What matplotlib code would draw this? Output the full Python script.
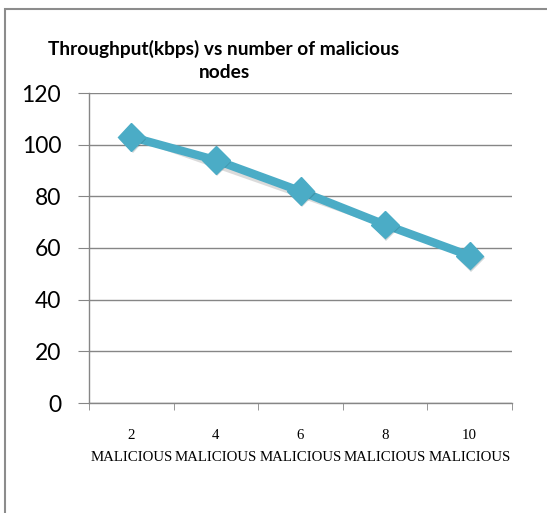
import numpy as np
import matplotlib.pyplot as plt
import matplotlib.patheffects as pe
from matplotlib.patches import Rectangle

# data
nodes = ['2', '4', '6', '8', '10']
throughput = [103, 94, 82, 69, 57]
xlabels = [n + '\nMALICIOUS' for n in nodes]

fig = plt.figure(figsize=(5.47, 5.13), dpi=100)
fig.patch.set_facecolor('white')

# outer chart frame
fig.add_artist(Rectangle((5 / 547, -0.01), 1.0, 1 - 9 / 513 + 0.01, transform=fig.transFigure,
                         fill=False, edgecolor='#8c8c8c', linewidth=1.5))

ax = fig.add_axes([89 / 547, 1 - 403 / 513, (512 - 89) / 547, (403 - 93) / 513])
x = np.arange(len(nodes))
ax.plot(x, throughput, color='#4bacc6', linewidth=6, marker='D', markersize=14,
        solid_joinstyle='round',
        path_effects=[pe.SimplePatchShadow(offset=(1, -1.5), alpha=0.2), pe.Normal()])

ax.set_xlim(-0.5, len(nodes) - 0.5)
ax.set_ylim(0, 120)
ax.set_yticks(np.arange(0, 121, 20))
ax.grid(axis='y', color='#868686', linewidth=1)
ax.set_axisbelow(True)

for s in ['top', 'right']:
    ax.spines[s].set_visible(False)
for s in ['left', 'bottom']:
    ax.spines[s].set_color('#868686')
    ax.spines[s].set_linewidth(1)

ax.set_xticks(x)
ax.set_xticklabels(xlabels, fontfamily='Liberation Serif', fontsize=10.7, linespacing=1.85)
ax.tick_params(axis='x', which='major', length=0, pad=19)
ax.set_xticks(np.arange(-0.5, len(nodes), 1), minor=True)
ax.tick_params(axis='x', which='minor', length=5, color='#868686', direction='out')
ax.tick_params(axis='y', length=8, color='#868686', direction='out', pad=12)
for lab in ax.get_yticklabels():
    lab.set_fontfamily('Lato')
    lab.set_fontsize(16.5)

fig.text(224 / 547, 1 - 60.5 / 513, 'Throughput(kbps) vs number of malicious\nnodes',
         ha='center', va='center', fontfamily='Lato', fontweight='bold', fontsize=13.75,
         linespacing=1.38)

fig.savefig('out.png', dpi=100)
